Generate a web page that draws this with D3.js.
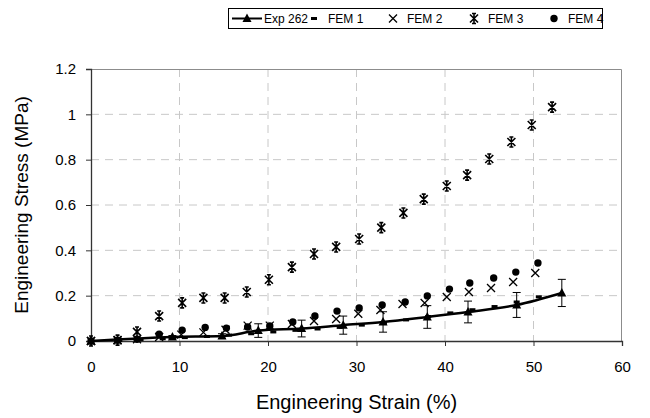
<!DOCTYPE html>
<html>
<head>
<meta charset="utf-8">
<script src="https://cdn.jsdelivr.net/npm/d3@7"></script>
<style>
body { margin: 0; background: #fff; }
text { font-family: "Liberation Sans", Arial, sans-serif; fill: #000; }
</style>
</head>
<body>
<div id="chart"></div>
<script>
// Exp 262 (mean with error bars)
var expX = [0, 9.2, 14.8, 18.9, 23.8, 28.5, 33, 38, 42.6, 48.1, 53.2];
var expY = [0, 0.018, 0.022, 0.046, 0.055, 0.07, 0.084, 0.106, 0.128, 0.159, 0.212];
var expErr = [0, 0.006, 0.01, 0.03, 0.037, 0.04, 0.045, 0.05, 0.048, 0.055, 0.06];

var fem1X = [0, 3.2, 5.6, 8.1, 10.6, 13.1, 15.6, 18.1, 20.6, 23.1, 25.6, 28.1, 30.6, 33.1, 35.6, 38.1, 40.6, 43.1, 45.6, 48.1, 50.6];
var fem1Y = [0, 0.002, 0.006, 0.01, 0.015, 0.02, 0.026, 0.032, 0.04, 0.047, 0.053, 0.06, 0.07, 0.08, 0.093, 0.108, 0.124, 0.138, 0.152, 0.172, 0.195];

var fem2X = [0, 3, 5.2, 7.7, 10.2, 12.7, 15.2, 17.7, 20.2, 22.7, 25.2, 27.7, 30.2, 32.7, 35.2, 37.7, 40.2, 42.7, 45.2, 47.7, 50.2];
var fem2Y = [0, 0.003, 0.008, 0.018, 0.028, 0.038, 0.05, 0.068, 0.068, 0.075, 0.088, 0.097, 0.12, 0.137, 0.163, 0.168, 0.194, 0.216, 0.234, 0.26, 0.30];

var fem3X = [0, 3.0, 5.2, 7.7, 10.3, 12.7, 15.1, 17.6, 20.1, 22.7, 25.2, 27.7, 30.3, 32.8, 35.3, 37.6, 40.2, 42.5, 45.0, 47.5, 49.8, 52.1];
var fem3Y = [0, 0.004, 0.04, 0.11, 0.168, 0.19, 0.19, 0.216, 0.27, 0.326, 0.384, 0.415, 0.45, 0.50, 0.565, 0.626, 0.684, 0.732, 0.803, 0.878, 0.953, 1.032];

var fem4X = [0, 3, 5.2, 7.7, 10.3, 12.9, 15.3, 17.7, 20.2, 22.8, 25.3, 27.8, 30.3, 32.9, 35.5, 38, 40.5, 42.8, 45.5, 48, 50.5];
var fem4Y = [0, 0.003, 0.008, 0.03, 0.048, 0.06, 0.057, 0.062, 0.066, 0.084, 0.11, 0.132, 0.146, 0.159, 0.172, 0.199, 0.229, 0.256, 0.278, 0.304, 0.344];

var xTicks = [0, 10, 20, 30, 40, 50, 60];
var yTicks = [0, 0.2, 0.4, 0.6, 0.8, 1, 1.2];
var legendNames = ["Exp 262", "FEM 1", "FEM 2", "FEM 3", "FEM 4"];

var svgWidth = 650;
var svgHeight = 418;

var margin = {
    top: 69,
    bottom: 77,
    right: 28,
    left: 91
};

var width = svgWidth - margin.left - margin.right;
var height = svgHeight - margin.top - margin.bottom;

var svg = d3.select("#chart")
    .append("svg")
    .attr("width", svgWidth)
    .attr("height", svgHeight);

var chartGroup = svg.append("g")
    .attr("transform", `translate(${margin.left}, ${margin.top})`);

var xScale = d3.scaleLinear().domain([0, 60]).range([0, width]);
var yScale = d3.scaleLinear().domain([0, 1.2]).range([height, 0]);

function pairs(xs, ys) {
    return xs.map((x, i) => ({ x: x, y: ys[i] }));
}

// grid
chartGroup.selectAll(".hgrid")
    .data(yTicks.filter(d => d > 0 && d < 1.2))
    .enter()
    .append("line")
    .attr("x1", 0).attr("x2", width)
    .attr("y1", d => yScale(d)).attr("y2", d => yScale(d))
    .attr("stroke", "#c8c8c8")
    .attr("stroke-dasharray", "8,6");

chartGroup.selectAll(".vgrid")
    .data(xTicks.filter(d => d > 0 && d < 60))
    .enter()
    .append("line")
    .attr("y1", 0).attr("y2", height)
    .attr("x1", d => xScale(d)).attr("x2", d => xScale(d))
    .attr("stroke", "#c8c8c8")
    .attr("stroke-dasharray", "8,6");

// top and right border
chartGroup.append("path")
    .attr("d", `M0,0.5H${width - 0.5}V${height}`)
    .attr("fill", "none")
    .attr("stroke", "#8c8c8c");

// axes
var bottomAxis = d3.axisBottom(xScale).tickValues(xTicks).tickSize(5).tickPadding(15).tickFormat(d3.format("d"));
var leftAxis = d3.axisLeft(yScale).tickValues(yTicks).tickSize(5).tickPadding(10).tickFormat(d => d3.format("")(d));

var xAxis = chartGroup.append("g")
    .attr("transform", `translate(0, ${height})`)
    .call(bottomAxis);

var yAxis = chartGroup.append("g")
    .call(leftAxis);

[xAxis, yAxis].forEach(function (ax) {
    ax.select(".domain").attr("stroke", "#333").attr("stroke-width", 1.3);
    ax.selectAll(".tick line").attr("stroke", "#333");
    ax.selectAll("text")
        .style("font-family", "'Liberation Sans', Arial, sans-serif")
        .style("font-size", "15px")
        .attr("fill", "#000");
});

// Exp line
var line = d3.line()
    .x(d => xScale(d.x))
    .y(d => yScale(d.y))
    .curve(d3.curveMonotoneX);

var expData = expX.map((x, i) => ({ x: x, y: expY[i], e: expErr[i] }));

chartGroup.append("path")
    .datum(expData)
    .attr("d", line)
    .attr("fill", "none")
    .attr("stroke", "#000")
    .attr("stroke-width", 2.5);

// error bars
var errGroup = chartGroup.selectAll(".err")
    .data(expData.filter(d => d.e > 0))
    .enter()
    .append("g")
    .attr("stroke", "#000")
    .attr("stroke-width", 1);

errGroup.append("line")
    .attr("x1", d => xScale(d.x)).attr("x2", d => xScale(d.x))
    .attr("y1", d => yScale(d.y + d.e)).attr("y2", d => yScale(d.y - d.e));
errGroup.append("line")
    .attr("x1", d => xScale(d.x) - 4).attr("x2", d => xScale(d.x) + 4)
    .attr("y1", d => yScale(d.y + d.e)).attr("y2", d => yScale(d.y + d.e));
errGroup.append("line")
    .attr("x1", d => xScale(d.x) - 4).attr("x2", d => xScale(d.x) + 4)
    .attr("y1", d => yScale(d.y - d.e)).attr("y2", d => yScale(d.y - d.e));

// marker shapes
function triangle(sel) {
    sel.append("path").attr("d", "M0,-5L4.5,3.5L-4.5,3.5Z").attr("fill", "#000");
}
function dash(sel) {
    sel.append("rect").attr("x", -3).attr("y", -1.5).attr("width", 6).attr("height", 3).attr("fill", "#000");
}
function cross(sel) {
    sel.append("path").attr("d", "M-4,-4L4,4M-4,4L4,-4").attr("stroke", "#000").attr("stroke-width", 1.3);
}
function star(sel) {
    sel.append("path").attr("d", "M-4,-4L4,4M-4,4L4,-4M0,-5V5M-2,-5H2M-2,5H2").attr("stroke", "#000").attr("stroke-width", 1.6);
}
function dot(sel) {
    sel.append("circle").attr("r", 3.7).attr("fill", "#000");
}

function drawPoints(data, shape) {
    var g = chartGroup.append("g");
    g.selectAll("g")
        .data(data)
        .enter()
        .append("g")
        .attr("transform", d => `translate(${xScale(d.x)}, ${yScale(d.y)})`)
        .each(function () { shape(d3.select(this)); });
}

drawPoints(pairs(fem1X, fem1Y), dash);
drawPoints(pairs(fem2X, fem2Y), cross);
drawPoints(pairs(fem3X, fem3Y), star);
drawPoints(pairs(fem4X, fem4Y), dot);
drawPoints(expData, triangle);

// axis titles
svg.append("text")
    .attr("x", margin.left + width / 2)
    .attr("y", 409)
    .attr("text-anchor", "middle")
    .style("font-size", "20px")
    .text("Engineering Strain (%)");

svg.append("text")
    .attr("transform", `translate(28, ${margin.top + height / 2}) rotate(-90)`)
    .attr("text-anchor", "middle")
    .style("font-size", "19px")
    .text("Engineering Stress (MPa)");

// legend
var legend = svg.append("g");
legend.append("rect")
    .attr("x", 228.5).attr("y", 8.5)
    .attr("width", 374).attr("height", 20)
    .attr("fill", "#fff")
    .attr("stroke", "#000");

var legendShapes = [null, dash, cross, star, dot];
var legendX = [232, 314, 393, 474, 554];

legendNames.forEach(function (name, i) {
    var item = legend.append("g").attr("transform", `translate(${legendX[i]}, 18.5)`);
    var tx;
    if (i === 0) {
        item.append("line").attr("x1", 0).attr("x2", 30).attr("stroke", "#000").attr("stroke-width", 2);
        item.append("g").attr("transform", "translate(15,0)").call(triangle);
        tx = 32;
    } else {
        item.call(legendShapes[i]);
        tx = 14;
    }
    item.append("text")
        .attr("x", tx)
        .attr("y", 4.3)
        .style("font-size", "12px")
        .text(name);
});
</script>
</body>
</html>
